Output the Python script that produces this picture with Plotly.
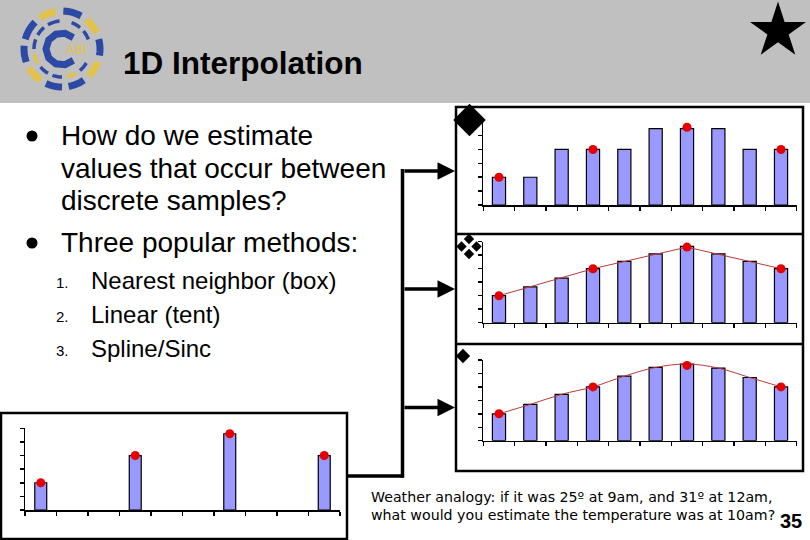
import math
import plotly.graph_objects as go

# ---------------- data ----------------
positions = [1, 2, 3, 4, 5, 6, 7, 8, 9, 10]
sample_positions = [1, 4, 7, 10]
sample_values = [2.0, 4.0, 5.6, 4.0]
nearest_values = [2.0, 2.0, 4.0, 4.0, 4.0, 5.5, 5.5, 5.5, 4.0, 4.0]
linear_values = [2.0, 2.65, 3.3, 4.0, 4.55, 5.1, 5.65, 5.1, 4.55, 4.0]
spline_values = [2.0, 2.7, 3.45, 4.0, 4.8, 5.45, 5.7, 5.4, 4.7, 4.0]
x_tick_edges = [0.5, 1.5, 2.5, 3.5, 4.5, 5.5, 6.5, 7.5, 8.5, 9.5, 10.5]
y_ticks = [0, 1, 2, 3, 4, 5, 6]

title_text = "1D Interpolation"
bullet_lines = ["How do we estimate", "values that occur between", "discrete samples?"]
bullet2 = "Three popular methods:"
methods = ["Nearest neighbor (box)", "Linear (tent)", "Spline/Sinc"]
note_lines = ["Weather analogy: if it was 25º at 9am, and 31º at 12am,",
              "what would you estimate the temperature was at 10am?"]
page_number = "35"

# ---------------- helpers ----------------
W, H = 810, 540
def PX(x): return x / W
def PY(y): return 1 - y / H
def dom_x(a, b): return [a / W, b / W]
def dom_y(top, bottom): return [1 - bottom / H, 1 - top / H]

BAR_COLOR = "#9999FF"
DOT_COLOR = "#E60000"
LINE_COLOR = "#B83A3A"
FONT = "Liberation Sans, Arial, sans-serif"

fig = go.Figure()

def bars(x, y, ax, width):
    fig.add_trace(go.Bar(x=x, y=y, width=width, marker=dict(color=BAR_COLOR, line=dict(color="black", width=1.2)),
                         xaxis="x" + ax, yaxis="y" + ax, showlegend=False, hoverinfo="skip"))

def dots(x, y, ax):
    fig.add_trace(go.Scatter(x=x, y=y, mode="markers", marker=dict(color=DOT_COLOR, size=9),
                             xaxis="x" + ax, yaxis="y" + ax, showlegend=False, cliponaxis=False, hoverinfo="skip"))

def line(x, y, ax, shape):
    fig.add_trace(go.Scatter(x=x, y=y, mode="lines", line=dict(color=LINE_COLOR, width=1, shape=shape),
                             xaxis="x" + ax, yaxis="y" + ax, showlegend=False, cliponaxis=False, hoverinfo="skip"))

# chart 1 : nearest neighbour
bars(positions, nearest_values, "", 0.42)
dots(sample_positions, sample_values, "")
# chart 2 : linear
bars(positions, linear_values, "2", 0.42)
line(sample_positions, sample_values, "2", "linear")
dots(sample_positions, sample_values, "2")
# chart 3 : spline
bars(positions, spline_values, "3", 0.42)
line(positions, spline_values, "3", "spline")
dots(sample_positions, sample_values, "3")
# chart 4 : samples only
bars(sample_positions, sample_values, "4", 0.38)
dots(sample_positions, sample_values, "4")

# pixel overlay: bullets, symbols, star
sym_x = [32, 32, 469.5, 469, 461.5, 476.5, 469, 463, 778]
sym_y = [136, 243, 120, 239, 246.5, 246.5, 254, 356, 31]
sym_s = [11, 11, 25, 8, 8, 8, 8, 11, 42]
sym_k = ["circle", "circle", "diamond", "diamond", "diamond", "diamond", "diamond", "diamond", "star"]
fig.add_trace(go.Scatter(x=sym_x, y=sym_y, mode="markers", opacity=1,
                         marker=dict(color="#000000", size=sym_s, symbol=sym_k, opacity=1,
                                     line=dict(width=0, color="#000000")),
                         xaxis="x5", yaxis="y5", showlegend=False, cliponaxis=False, hoverinfo="skip"))

axis_style = dict(showline=True, linecolor="black", linewidth=1.5, ticks="outside", ticklen=4,
                  tickwidth=1.5, tickcolor="black", showticklabels=False, showgrid=False, zeroline=False,
                  fixedrange=True)

layout = dict(
    width=W, height=H, margin=dict(l=0, r=0, t=0, b=0),
    paper_bgcolor="white", plot_bgcolor="rgba(0,0,0,0)", bargap=0,
    xaxis=dict(domain=dom_x(483.3, 796.7), range=[0.5, 10.5], tickvals=x_tick_edges, anchor="y", **axis_style),
    yaxis=dict(domain=dom_y(121.7, 205), range=[0, 6], tickvals=y_ticks, anchor="x", **axis_style),
    xaxis2=dict(domain=dom_x(483.3, 796.7), range=[0.5, 10.5], tickvals=x_tick_edges, anchor="y2", **axis_style),
    yaxis2=dict(domain=dom_y(241.7, 322.7), range=[0, 6], tickvals=y_ticks, anchor="x2", **axis_style),
    xaxis3=dict(domain=dom_x(483.3, 796.7), range=[0.5, 10.5], tickvals=x_tick_edges, anchor="y3", **axis_style),
    yaxis3=dict(domain=dom_y(360, 440.7), range=[0, 6], tickvals=y_ticks, anchor="x3", **axis_style),
    xaxis4=dict(domain=dom_x(25, 340), range=[0.5, 10.5], tickvals=x_tick_edges, anchor="y4", **axis_style),
    yaxis4=dict(domain=dom_y(428.3, 510), range=[0, 6], tickvals=y_ticks, anchor="x4", **axis_style),
    xaxis5=dict(domain=[0, 1], range=[0, W], visible=False, anchor="y5", fixedrange=True),
    yaxis5=dict(domain=[0, 1], range=[H, 0], visible=False, anchor="x5", fixedrange=True),
)
fig.update_layout(**layout)

shapes = []
# header band
shapes.append(dict(type="rect", xref="paper", yref="paper", x0=0, x1=1, y0=PY(103), y1=1,
                   fillcolor="#C0C0C0", line=dict(width=0), layer="below"))
# right framed box with dividers
shapes.append(dict(type="rect", xref="paper", yref="paper", x0=PX(456), x1=PX(803), y0=PY(471), y1=PY(107),
                   line=dict(color="black", width=2.5)))
for yy in (234, 344):
    shapes.append(dict(type="line", xref="paper", yref="paper", x0=PX(456), x1=PX(803), y0=PY(yy), y1=PY(yy),
                       line=dict(color="black", width=2.5)))
# left framed box
shapes.append(dict(type="rect", xref="paper", yref="paper", x0=PX(1), x1=PX(347), y0=PY(539), y1=PY(413),
                   line=dict(color="black", width=2.5)))
# connectors
shapes.append(dict(type="line", xref="paper", yref="paper", x0=PX(402.5), x1=PX(402.5), y0=PY(169), y1=PY(477.5),
                   line=dict(color="black", width=3.5)))
shapes.append(dict(type="line", xref="paper", yref="paper", x0=PX(347), x1=PX(404), y0=PY(476), y1=PY(476),
                   line=dict(color="black", width=3.5)))

# logo (pixel coordinates on overlay axis)
BLUE, YELLOW = "#2C4AA5", "#E3C24A"
cx, cy = 62, 49
def arc(r, a0, a1, color, width):
    pts = []
    n = 8
    for i in range(n + 1):
        a = math.radians(a0 + (a1 - a0) * i / n)
        pts.append((cx + r * math.cos(a), cy - r * math.sin(a)))
    path = "M " + " L ".join(f"{x:.2f},{y:.2f}" for x, y in pts)
    return dict(type="path", xref="x5", yref="y5", path=path, line=dict(color=color, width=width))
outer = [(100, 125, YELLOW), (135, 165, BLUE), (175, 200, BLUE), (210, 235, YELLOW), (245, 270, BLUE),
         (280, 305, BLUE), (315, 340, YELLOW), (350, 375, BLUE), (25, 50, YELLOW), (60, 88, BLUE)]
for a0, a1, c in outer:
    shapes.append(arc(38, a0, a1, c, 7))
inner = [(95, 120, BLUE), (130, 150, BLUE), (160, 180, BLUE), (190, 210, YELLOW), (220, 240, BLUE),
         (250, 270, BLUE), (280, 300, YELLOW), (310, 330, BLUE), (20, 40, BLUE), (50, 70, BLUE)]
for a0, a1, c in inner:
    shapes.append(arc(28, a0, a1, c, 3.5))
shapes.append(arc(16, 45, 315, BLUE, 7))
fig.update_layout(shapes=shapes)

# ---------------- text ----------------
ann = []
def text(x, y, s, size, bold=False, anchor="left", family=FONT, color="black"):
    ann.append(dict(x=PX(x), y=PY(y), xref="paper", yref="paper", text=("<b>%s</b>" % s) if bold else s,
                    showarrow=False, xanchor=anchor, yanchor="middle",
                    font=dict(family=family, size=size, color=color)))

text(64, 50, "ABI", 13, color=YELLOW)
text(121, 63, title_text, 31.5, bold=True)
for i, s in enumerate(bullet_lines):
    text(59, 136 + 32 * i, s, 28)
text(59, 243, bullet2, 28)
for i, s in enumerate(methods):
    text(54, 282 + 34 * i, "%d." % (i + 1), 15)
    text(89, 280 + 34 * i, s, 24)
text(369, 497, note_lines[0], 14.2, family="DejaVu Sans, Verdana, sans-serif")
text(369, 515, note_lines[1], 14.2, family="DejaVu Sans, Verdana, sans-serif")
text(791, 521, page_number, 20, bold=True, anchor="center")

# arrows into the right panels
for yy in (171, 289, 407.5):
    ann.append(dict(x=455, y=yy, ax=403, ay=yy, xref="x5", yref="y5", axref="x5", ayref="y5", text="",
                    showarrow=True, arrowhead=2, arrowsize=1, arrowwidth=3.5, arrowcolor="black"))
fig.update_layout(annotations=ann)

fig.write_html("out.html", config={"displayModeBar": False, "staticPlot": True},
               post_script="document.body.style.margin='0';document.body.style.padding='0';"
                           "document.body.style.overflow='hidden';")
